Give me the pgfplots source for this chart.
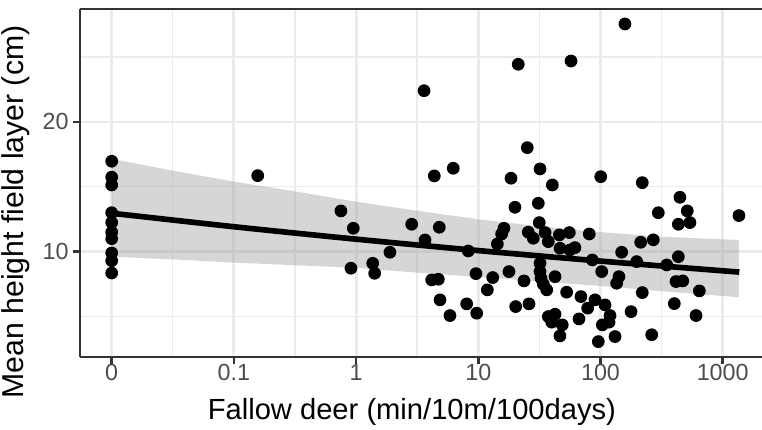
\documentclass[border=0pt]{standalone}
\usepackage{pgfplots}
\pgfplotsset{compat=1.18}
\usepackage{fontspec}
\setmainfont{Liberation Sans}
\definecolor{gridc}{HTML}{EBEBEB}
\definecolor{bordc}{HTML}{333333}
\definecolor{tickc}{HTML}{4D4D4D}
\definecolor{ribc}{HTML}{999999}
\begin{document}
\begin{tikzpicture}
\begin{axis}[
  name=ax, at={(0,0)}, anchor=south west,
  scale only axis, width=257.4pt, height=131.3pt,
  xmin=-2.2594, xmax=3.3216, ymin=1.881, ymax=28.713,
  axis x line*=box, axis y line*=left,
  axis line style={-, bordc, line width=1pt},
  tick pos=left, tick align=outside,
  major tick length=2.75pt, minor tick length=0pt,
  tick style={bordc, line width=1pt},
  xtick={-2,-1,0,1,2,3}, xticklabels={0,0.1,1,10,100,1000},
  minor xtick={-1.5,-0.5,0.5,1.5,2.5},
  ytick={10,20}, yticklabels={10,20},
  minor ytick={5,15,25},
  grid=both,
  major grid style={gridc, line width=1.07pt},
  minor grid style={gridc, line width=0.53pt},
  tick label style={font=\fontsize{8.8}{10}\selectfont, text=tickc},
  xticklabel style={yshift=3.6pt},
  yticklabel style={xshift=2pt},
  label style={font=\fontsize{11}{13}\selectfont, text=black},
  xlabel={Fallow deer (min/10m/100days)},
  ylabel={Mean height field layer (cm)},
  xlabel style={at={(axis description cs:0.4867,-0.158)}, anchor=center},
  ylabel style={at={(axis description cs:-0.0938,0.4167)}, anchor=center, font=\fontsize{11.4}{13}\selectfont},
  clip=true,
]
% confidence ribbon (upper then lower reversed)
\addplot[draw=none, fill=ribc, fill opacity=0.4] coordinates {
 (-2,17.15) (-1.5,16.25) (-1,15.4) (-0.5,14.65) (0,13.85) (0.5,13.15) (1,12.5)
 (1.5,11.95) (2,11.5) (2.5,11.15) (3.133,10.9)
 (3.133,6.48) (2.5,6.95) (2,7.35) (1.5,7.7) (1,8.05) (0.5,8.38) (0,8.75)
 (-0.5,8.95) (-1,9.15) (-1.5,9.4) (-2,9.61)
} -- cycle;
% fitted line
\addplot[black, line width=2.13pt, smooth] coordinates {
 (-2,12.96) (-1,11.92) (0,10.96) (1,10.08) (2,9.27) (3,8.52) (3.133,8.43)
};
% observations
\addplot[only marks, mark=*, mark size=2.2pt, mark options={fill=black, draw=black}] table {
x y
-2 16.97
-2 15.74
-2 15.14
-2 13.0
-2 12.25
-2 11.5
-2 11.0
-2 9.9
-2 9.3
-2 8.35
-0.805 15.86
-0.124 13.14
-0.023 11.80
-0.042 8.72
0.136 9.10
0.152 8.33
0.277 9.95
0.455 12.11
0.556 22.41
0.564 10.90
0.640 15.84
0.619 7.82
0.673 7.87
0.681 11.88
0.687 6.28
0.768 5.07
0.795 16.43
0.905 5.97
0.918 10.05
0.981 8.30
0.987 5.25
1.074 7.05
1.118 8.00
1.156 10.59
1.191 11.36
1.210 11.80
1.251 8.46
1.268 15.66
1.300 13.42
1.306 5.76
1.327 24.45
1.374 7.74
1.401 18.02
1.409 11.50
1.415 5.97
1.450 11.03
1.491 13.73
1.499 12.24
1.505 16.38
1.505 9.10
1.505 8.46
1.513 7.95
1.532 7.49
1.560 7.05
1.547 11.47
1.573 10.77
1.606 15.14
1.628 8.07
1.663 11.29
1.669 10.26
1.745 11.47
1.750 10.13
1.791 10.31
1.723 6.87
1.840 6.53
1.759 24.70
1.908 11.36
1.933 9.36
1.955 6.28
2.002 15.78
2.010 8.46
2.037 5.89
1.895 5.64
1.824 4.81
1.573 4.99
1.601 4.56
1.628 5.17
1.687 4.35
1.668 3.50
2.078 5.07
2.070 4.56
2.015 4.35
1.982 3.06
2.119 3.45
2.250 5.37
2.173 9.95
2.151 8.07
2.132 7.56
2.200 27.56
2.296 9.23
2.329 10.72
2.342 6.84
2.342 15.32
2.419 3.59
2.432 10.91
2.473 13.0
2.542 8.97
2.604 5.99
2.618 7.69
2.673 7.74
2.637 9.61
2.637 12.11
2.650 14.19
2.710 13.14
2.732 12.24
2.809 6.97
2.782 5.07
3.133 12.78
};
\end{axis}
\pgfresetboundingbox
\useasboundingbox (-30.19pt,-27.55pt) rectangle (257.4pt,134.7pt);
\end{tikzpicture}
\end{document}
